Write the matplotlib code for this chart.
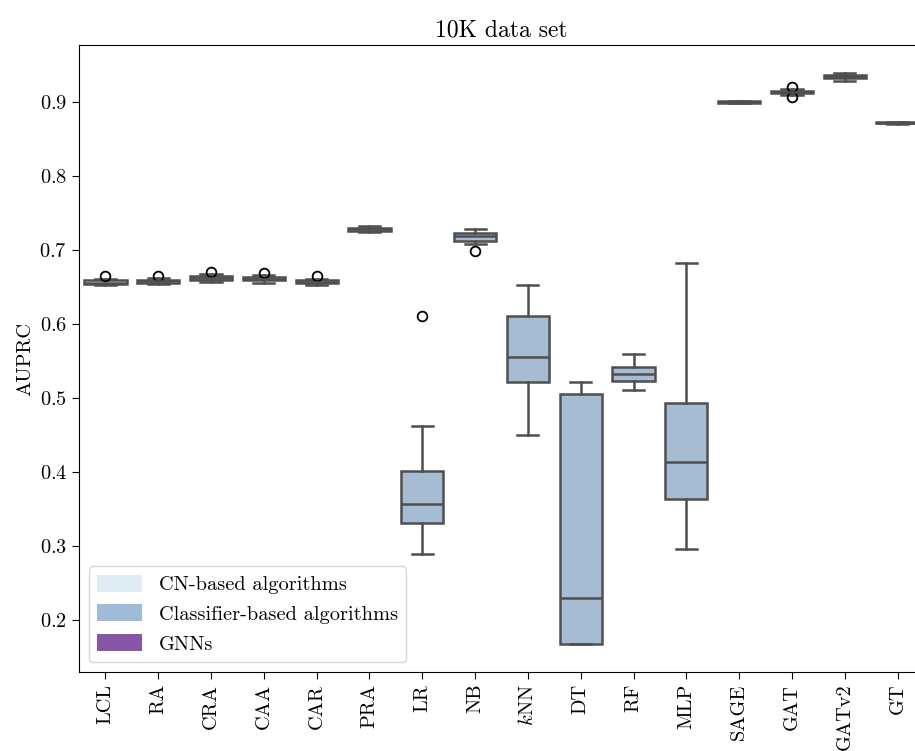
import colorsys
import matplotlib
matplotlib.use("Agg")
import matplotlib.pyplot as plt
import matplotlib.colors as mcolors
from matplotlib.patches import Patch

plt.rcParams["font.family"] = ["cmr10", "DejaVu Serif"]
plt.rcParams["mathtext.fontset"] = "cm"
plt.rcParams["axes.formatter.use_mathtext"] = True
plt.rcParams["axes.unicode_minus"] = False

# Methods and their groups
methods = ["LCL", "RA", "CRA", "CAA", "CAR", "PRA", "LR", "NB", r"$k$NN",
           "DT", "RF", "MLP", "SAGE", "GAT", "GATv2", "GT"]
groups = ["cn"] * 6 + ["clf"] * 6 + ["gnn"] * 4

# AUPRC box statistics per method
whislo = [0.652, 0.654, 0.657, 0.656, 0.652, 0.724, 0.289, 0.708, 0.450,
          0.167, 0.511, 0.296, 0.8985, 0.909, 0.929, 0.8705]
q1 = [0.654, 0.656, 0.660, 0.659, 0.655, 0.726, 0.331, 0.7126, 0.522,
      0.167, 0.5225, 0.364, 0.899, 0.9115, 0.932, 0.8713]
med = [0.656, 0.658, 0.662, 0.661, 0.657, 0.728, 0.357, 0.719, 0.556,
       0.230, 0.533, 0.413, 0.900, 0.913, 0.935, 0.872]
q3 = [0.659, 0.660, 0.665, 0.663, 0.659, 0.730, 0.401, 0.7225, 0.611,
      0.505, 0.542, 0.493, 0.901, 0.9155, 0.937, 0.8727]
whishi = [0.661, 0.662, 0.667, 0.666, 0.661, 0.733, 0.462, 0.729, 0.653,
          0.521, 0.560, 0.682, 0.9015, 0.918, 0.939, 0.8735]
fliers = [[0.665], [0.665], [0.670], [0.669], [0.665], [], [0.611], [0.699], [],
          [], [], [], [], [0.9205, 0.9065], [], []]

group_colors = {"cn": "#e0ecf4", "clf": "#9ebcda", "gnn": "#8856a7"}
group_labels = {"cn": "CN-based algorithms",
                "clf": "Classifier-based algorithms",
                "gnn": "GNNs"}


def desaturate(color, prop=0.75):
    r, g, b = mcolors.to_rgb(color)
    h, l, s = colorsys.rgb_to_hls(r, g, b)
    return colorsys.hls_to_rgb(h, l, s * prop)


stats = []
for i in range(len(methods)):
    stats.append(dict(whislo=whislo[i], q1=q1[i], med=med[i], q3=q3[i],
                      whishi=whishi[i], fliers=fliers[i], label=methods[i]))

fig = plt.figure(figsize=(9.15, 7.51), dpi=100)
ax = fig.add_axes([79 / 915, 79 / 751, (924 - 79) / 915, (672 - 45) / 751])

edge = "#4f4f4f"
lw = 1.8
bp = ax.bxp(stats, positions=range(len(methods)), widths=0.8,
            patch_artist=True, showfliers=True,
            boxprops=dict(edgecolor=edge, linewidth=lw),
            whiskerprops=dict(color=edge, linewidth=lw),
            capprops=dict(color=edge, linewidth=lw),
            medianprops=dict(color=edge, linewidth=lw),
            flierprops=dict(marker="o", markerfacecolor="none",
                            markeredgecolor="black", markersize=7,
                            markeredgewidth=1.3))
for patch, g in zip(bp["boxes"], groups):
    patch.set_facecolor(desaturate(group_colors[g]))
for cap in bp["caps"]:
    x0, x1 = cap.get_xdata()
    c = (x0 + x1) / 2
    cap.set_xdata([c - 0.2, c + 0.2])

fs = 14.7
ax.set_xlim(-0.5, len(methods) - 0.5)
ax.set_ylim(0.1297, 0.977)
ax.set_xticks(range(len(methods)))
ax.set_xticklabels(methods, rotation=90, fontsize=fs)
ax.set_yticks([0.2, 0.3, 0.4, 0.5, 0.6, 0.7, 0.8, 0.9])
ax.tick_params(axis="y", labelsize=fs, length=5)
ax.tick_params(axis="x", length=5)
ax.set_ylabel("AUPRC", fontsize=fs)
ax.set_title("10K data set", fontsize=17)

handles = [Patch(facecolor=group_colors[g], label=group_labels[g])
           for g in ["cn", "clf", "gnn"]]
ax.legend(handles=handles, loc="lower left", fontsize=fs,
          handlelength=2.2, handleheight=0.9)

fig.savefig("out.png", dpi=100)
